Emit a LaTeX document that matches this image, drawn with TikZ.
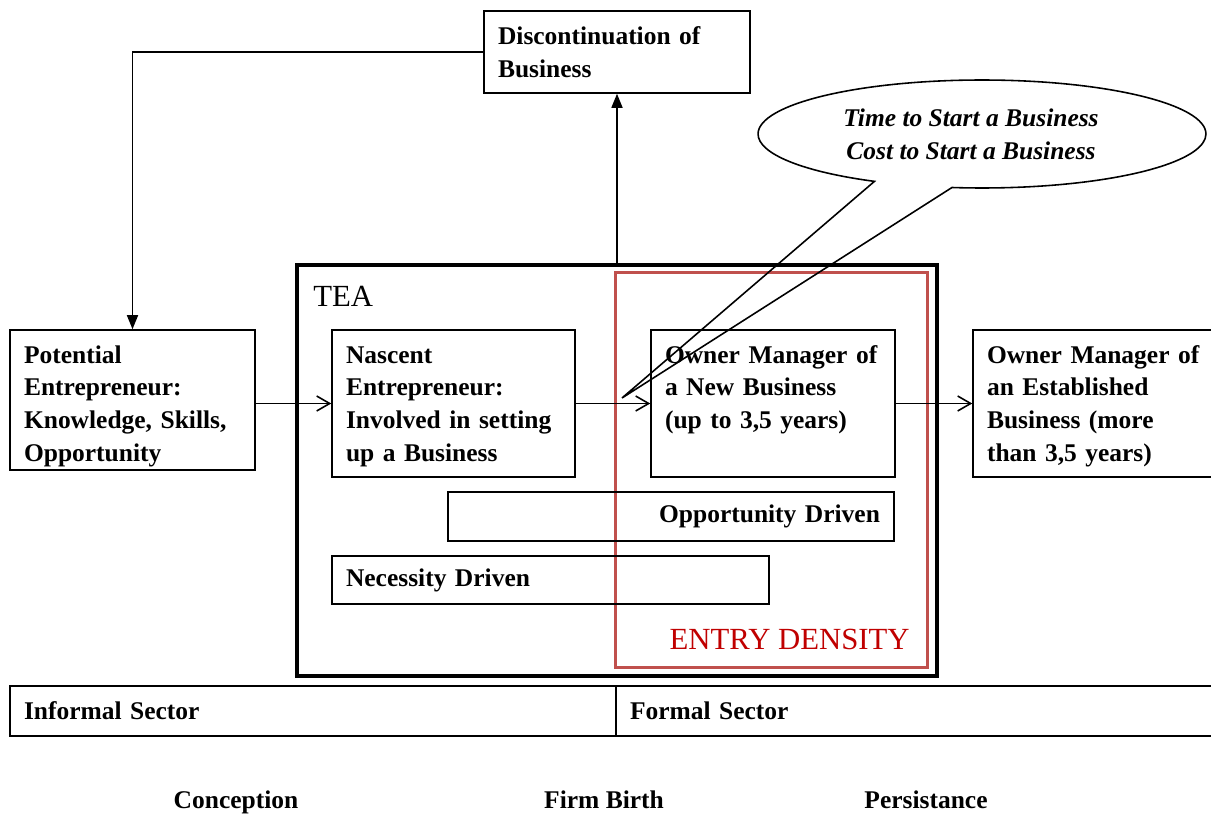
\documentclass[tikz,border=0pt]{standalone}
\usepackage{fontspec}
\setmainfont{Liberation Serif}
\usetikzlibrary{arrows.meta,positioning,shapes.geometric,shapes.callouts}
\definecolor{EDframe}{RGB}{192,80,77}
\definecolor{EDtext}{RGB}{192,0,0}
\newcommand{\boxfont}{\fontsize{14.5}{18.6}\selectfont\bfseries}
\newcommand{\bigfont}{\fontsize{17.5}{21}\selectfont}
\tikzset{
  stage/.style={draw,line width=0.9pt,align=left,inner xsep=0.28cm,inner ysep=0pt,
                font=\boxfont},
  teaframe/.style={draw,line width=2pt,inner sep=0pt},
  edframe/.style={draw=EDframe,line width=1.7pt,inner sep=0pt},
  phase/.style={font=\boxfont,anchor=base,inner sep=0pt},
  flow/.style={-{Straight Barb[length=2.6mm,width=3mm]},line width=0.9pt},
  lead/.style={-{Triangle[length=2.8mm,width=2.2mm]},line width=0.9pt},
}

\begin{document}
\begin{tikzpicture}[x=0.02cm,y=-0.02cm]
    \useasboundingbox (0,0) rectangle (1211,814);
    % frames
    \node[teaframe,minimum width=12.8cm,minimum height=8.22cm] (tea) at (617,470.5) {};
    \node[edframe,minimum width=6.26cm,minimum height=7.92cm] (ed) at (771.5,470) {};
    \node[font=\bigfont,anchor=base west,inner sep=0pt] (tealab) at (313,307) {TEA};
    \node[font=\bigfont,text=EDtext,anchor=base east,inner sep=0pt] (edlab) at (910,649) {ENTRY DENSITY};
    % stages
    \node[stage,text width=4.76cm,text height=0.68cm,text depth=0.96cm] (disc) at (617,52) {Discontinuation of\\Business};
    \node[stage,text width=4.34cm,text height=0.66cm,text depth=2.14cm] (pot) at (132.5,400) {Potential\\Entrepreneur:\\Knowledge, Skills,\\Opportunity};
    \node[stage,text width=4.3cm,text height=0.66cm,text depth=2.28cm] (nas) at (453.5,403.5) {Nascent\\Entrepreneur:\\Involved in setting\\up a Business};
    \node[stage,text width=4.32cm,text height=0.66cm,text depth=2.28cm] (own) at (773,403.5) {Owner Manager of\\a New Business\\(up to 3,5 years)};
    \node[stage,text width=4.4cm,text height=0.66cm,text depth=2.28cm] (est) at (1097,403.5) {Owner Manager of\\an Established\\Business (more\\than 3,5 years)};
    \node[stage,align=right,text width=8.36cm,minimum height=0.98cm] (opp) at (671,516.5) {Opportunity Driven};
    \node[stage,text width=8.18cm,minimum height=0.96cm] (nec) at (550.5,580) {Necessity Driven};
    % callout
    \coordinate (tip) at (622,398);
    \node[ellipse callout,draw,line width=0.9pt,minimum width=8.96cm,minimum height=2.16cm,inner sep=0pt,
          callout absolute pointer={(tip)},callout pointer arc=21,align=center,
          font=\boxfont\itshape] (bubble) at (982,134)
          {Time to Start a Business\hspace*{0.44cm}\\Cost to Start a Business\hspace*{0.44cm}};
    % sectors
    \node[stage,text width=11.56cm,minimum height=1cm] (inf) at (313,711) {Informal Sector};
    \node[stage,text width=11.38cm,minimum height=1cm] (form) at (914.5,711) {Formal Sector};
    \node[phase] (conc) at (236,808) {Conception};
    \node[phase] (birth) at (604,808) {Firm Birth};
    \node[phase] (pers) at (926,808) {Persistance};
    % connectors
    \draw[flow] (pot.east |- nas.west) -- (nas.west);
    \draw[flow] (nas) -- (own);
    \draw[flow] (own) -- (est);
    \draw[lead] (tea.north) -- (disc.south);
    \draw[lead] (disc.west) -| (pot.north);
  \end{tikzpicture}
\end{document}
